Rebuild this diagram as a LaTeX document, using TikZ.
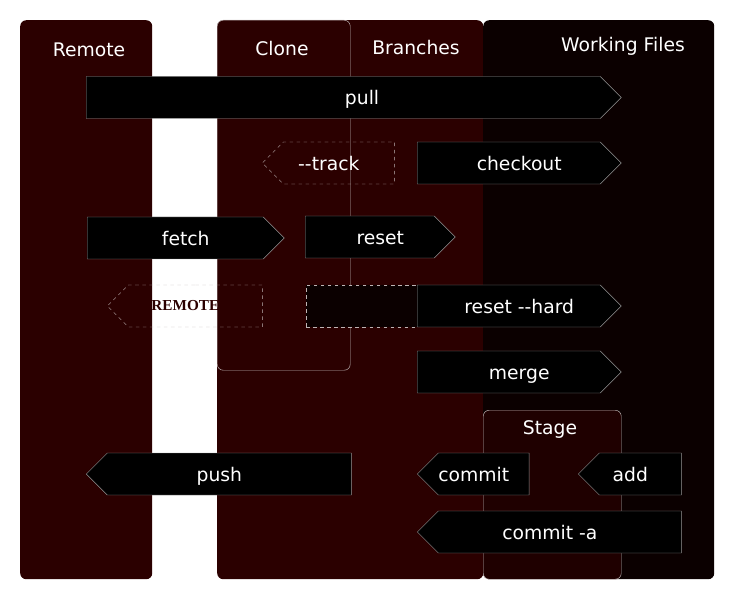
\documentclass[tikz,border=0pt]{standalone}
\usepackage{fontspec}
\setmainfont{DejaVu Sans}
\newfontfamily\remotefont{Liberation Serif}
\usepackage{tikz}
\usetikzlibrary{shapes.symbols,positioning}
\definecolor{gitAreaFill}{RGB}{43,0,0}
\definecolor{gitWorkFill}{RGB}{11,0,0}
\definecolor{gitStageFill}{RGB}{31,0,0}
\definecolor{gitLine}{RGB}{150,150,150}
\definecolor{gitFrame}{RGB}{190,180,180}
\newcommand{\pxu}{0.03cm}
\tikzset{
  areabox/.style={rectangle, fill=gitAreaFill, rounded corners=0.18cm, anchor=north west,
    inner sep=0pt},
  areatitle/.style={font=\fontsize{16}{19}\selectfont, text=white, inner sep=0pt},
  cmdbase/.style={signal, signal pointer angle=90, draw=gitLine, fill=black,
    text=white, minimum height=42*\pxu, inner sep=0pt, anchor=west,
    text height=12pt, text depth=0pt, font=\fontsize{16}{19}\selectfont},
  cmdright/.style={cmdbase, signal to=east, execute at begin node={\hspace*{0.63cm}}},
  cmdleft/.style={cmdbase, signal to=west, execute at end node={\hspace*{0.6cm}}},
  optleft/.style={cmdleft, fill=none, dashed, draw=gitFrame},
}

\begin{document}
\begin{tikzpicture}[x=\pxu, y=-\pxu]
  \useasboundingbox (0,0) rectangle (734,600);
  % areas
  \node[areabox, minimum width=132*\pxu, minimum height=559*\pxu] (remote) at (20,20) {};
  \node[areabox, minimum width=266*\pxu, minimum height=559*\pxu] (branches) at (217,20) {};
  \node[areabox, fill=gitWorkFill, minimum width=231*\pxu, minimum height=559*\pxu] (work) at (483,20) {};
  \node[areabox, draw=gitFrame, minimum width=133*\pxu, minimum height=350*\pxu] (clone) at (217,20) {};
  \node[areabox, draw=gitFrame, fill=gitStageFill, minimum width=138*\pxu, minimum height=169*\pxu] (stage) at (483,410) {};

  \node[areatitle] (remotetitle) at (89,50) {Remote};
  \node[areatitle] (clonetitle) at (282,49) {Clone};
  \node[areatitle] (branchtitle) at (416,48) {Branches};
  \node[areatitle] (worktitle) at (623,46) {Working Files};
  \node[areatitle] (stagetitle) at (550,429) {Stage};

  % commands
  \node[cmdright, minimum width=535*\pxu] (pull) at (86,97.5) {\hspace*{0.5cm}pull};
  \node[optleft, minimum width=132*\pxu] (track) at (262,163) {-{}-track};
  \node[cmdright, minimum width=204*\pxu] (checkout) at (417,163) {checkout};
  \node[cmdright, minimum width=197*\pxu] (fetch) at (87,238) {fetch};
  \node[cmdright, minimum width=150*\pxu] (reset) at (305,237) {reset};
  \node[optleft, minimum width=155*\pxu, text=gitAreaFill, text height=7pt, text depth=0pt,
    font=\remotefont\fontsize{13}{15}\selectfont\bfseries] (remoteopt) at (107,306) {REMOTE};
  \node[rectangle, dashed, draw=gitFrame, fill=gitWorkFill, anchor=west,
    minimum width=111*\pxu, minimum height=42*\pxu] (hardopt) at (306,306) {};
  \node[cmdright, minimum width=204*\pxu] (hard) at (417,306) {reset -{}-hard};
  \node[cmdright, minimum width=204*\pxu] (merge) at (417,372) {merge};
  \node[cmdleft, minimum width=265*\pxu] (push) at (86,474) {push};
  \node[cmdleft, minimum width=110*\pxu] (commit) at (417,474) {commit};
  \node[cmdleft, minimum width=103*\pxu] (add) at (578,474) {add};
  \node[cmdleft, minimum width=264*\pxu] (commitall) at (417,532) {commit -a};
\end{tikzpicture}
\end{document}
